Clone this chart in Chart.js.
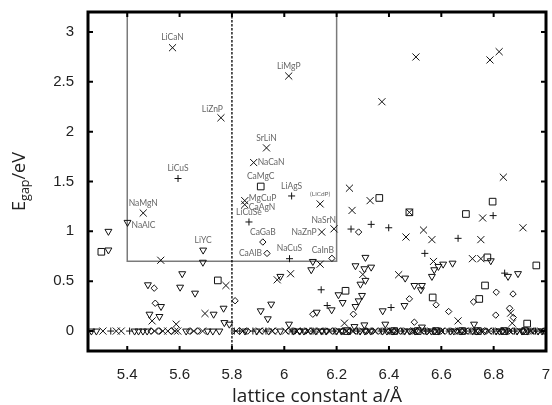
<!DOCTYPE html>
<html>
<head>
<meta charset="utf-8">
<script src="https://cdn.jsdelivr.net/npm/chart.js"></script>
<style>
  body { margin: 0; background: #fff; }
  canvas { display: block; }
</style>
</head>
<body>
<canvas id="gapChart" width="552" height="405"></canvas>
<script>
// axis ticks
const xTicks = [5.4, 5.6, 5.8, 6.0, 6.2, 6.4, 6.6, 6.8, 7.0];
const yTicks = [0, 0.5, 1, 1.5, 2, 2.5, 3];

// points with a gap (x = lattice constant, y = gap), one pair of arrays per marker
const crossX = [5.573, 6.017, 5.758, 5.932, 5.883, 5.849, 5.849, 6.137, 6.190, 6.143, 5.461,
  6.503, 6.786, 6.821, 6.373, 6.837, 6.249, 6.328, 6.259, 6.478, 6.758, 6.912, 6.465, 6.532,
  6.564, 6.751, 6.719, 6.751, 5.528, 5.777, 5.697, 5.495, 5.587, 6.137, 6.300, 6.024, 5.973,
  6.230, 6.437, 6.570, 6.664, 6.865, 6.871];
const crossY = [2.842, 2.558, 2.139, 1.837, 1.690, 1.308, 1.268, 1.275, 1.025, 0.993, 1.184,
  2.749, 2.719, 2.802, 2.300, 1.543, 1.433, 1.308, 1.210, 1.191, 1.134, 1.036, 0.943, 1.013,
  0.917, 0.917, 0.726, 0.726, 0.710, 0.457, 0.176, 0.102, 0.069, 0.671, 0.568, 0.575, 0.514,
  0.079, 0.565, 0.698, 0.102, 0.180, 0.079];

const plusX = [5.594, 6.028, 5.865, 6.020, 6.255, 6.332, 6.399, 6.664, 6.798, 6.537, 6.141, 6.164, 6.408, 6.842];
const plusY = [1.530, 1.355, 1.094, 0.726, 1.023, 1.070, 1.036, 0.930, 1.158, 0.779, 0.414, 0.256, 0.236, 0.581];

const squareX = [5.910, 5.301, 5.746, 6.363, 6.478, 6.694, 6.796, 6.776, 6.963, 6.234, 6.567, 6.767, 6.745, 6.928];
const squareY = [1.450, 0.795, 0.508, 1.335, 1.191, 1.174, 1.298, 0.739, 0.658, 0.404, 0.337, 0.457, 0.322, 0.075];

const diamondX = [5.918, 5.934, 6.182, 5.503, 5.507, 5.812, 6.284, 6.264, 6.109, 6.478, 6.580,
  6.628, 6.497, 6.723, 6.810, 6.874, 6.808, 6.861, 6.875];
const diamondY = [0.893, 0.779, 0.729, 0.430, 0.279, 0.304, 0.993, 0.169, 0.169, 0.323, 0.263,
  0.196, 0.089, 0.293, 0.390, 0.372, 0.160, 0.229, 0.136];

const triangleX = [5.401, 5.690, 5.328, 5.328, 5.689, 5.610, 5.479, 5.602, 5.659, 5.529, 5.768,
  5.485, 5.523, 5.730, 5.771, 5.790, 6.109, 6.103, 6.310, 6.272, 6.306, 6.332, 6.310, 6.291,
  6.297, 6.207, 6.223, 6.284, 6.272, 5.985, 5.950, 5.910, 5.937, 6.181, 6.124, 6.376, 6.018,
  6.462, 6.497, 6.526, 6.522, 6.564, 6.573, 6.589, 6.607, 6.643, 6.459, 6.725, 6.789, 6.855,
  6.893, 6.526, 6.268, 6.306, 6.386];
const triangleY = [1.090, 0.812, 1.000, 0.813, 0.690, 0.575, 0.464, 0.440, 0.380, 0.246, 0.229,
  0.169, 0.146, 0.169, 0.085, 0.069, 0.698, 0.615, 0.739, 0.655, 0.625, 0.641, 0.508, 0.470,
  0.357, 0.364, 0.286, 0.303, 0.246, 0.548, 0.270, 0.203, 0.123, 0.213, 0.189, 0.203, 0.069,
  0.531, 0.457, 0.457, 0.414, 0.548, 0.615, 0.648, 0.671, 0.681, 0.256, 0.069, 0.705, 0.548,
  0.576, 0.040, 0.045, 0.062, 0.069];

// metals (gap = 0), lattice constants only
const zeroCrossX = [5.307, 5.358, 5.377, 5.504, 5.536, 5.555, 5.583, 5.593, 5.654, 5.688, 5.815,
  5.842, 5.905, 5.955, 6.005, 6.048, 6.090, 6.135, 6.170, 6.210, 6.260, 6.300, 6.345, 6.390,
  6.430, 6.470, 6.520, 6.560, 6.600, 6.650, 6.690, 6.730, 6.780, 6.820, 6.860, 6.900, 6.940, 6.980,
  6.112, 6.238, 6.322, 6.408, 6.496, 6.582, 6.668, 6.752, 6.842, 6.925];
const zeroPlusX = [5.337, 5.409, 5.809, 5.830, 5.880, 5.930, 6.030, 6.110, 6.190, 6.280, 6.370,
  6.450, 6.540, 6.630, 6.710, 6.800, 6.880, 6.960];
const zeroSquareX = [6.240, 6.420, 6.510, 6.580, 6.680, 6.740, 6.840, 6.920];
const zeroDiamondX = [5.491, 5.520, 5.568, 5.638, 5.669, 5.860, 5.915, 5.965, 6.015, 6.060, 6.100,
  6.145, 6.185, 6.225, 6.275, 6.315, 6.360, 6.400, 6.445, 6.490, 6.535, 6.575, 6.615, 6.660,
  6.700, 6.745, 6.790, 6.835, 6.875, 6.915, 6.955, 6.990,
  6.040, 6.082, 6.163, 6.252, 6.338, 6.425, 6.512, 6.598, 6.685, 6.772, 6.858, 6.945];
const zeroTriangleX = [5.263, 5.282, 5.428, 5.443, 5.460, 5.476, 5.625, 5.707, 5.727, 5.752,
  5.850, 5.895, 5.940, 5.985, 6.035, 6.075, 6.120, 6.160, 6.200, 6.245, 6.290, 6.330, 6.375,
  6.415, 6.460, 6.500, 6.545, 6.590, 6.635, 6.675, 6.720, 6.765, 6.810, 6.850, 6.890, 6.930, 6.970,
  6.058, 6.142, 6.218, 6.308, 6.392, 6.478, 6.562, 6.648, 6.735, 6.822, 6.908, 6.985];

// named compounds: name, point it belongs to, where the text goes
const labelNames = ['LiCaN', 'LiMgP', 'LiZnP', 'SrLiN', 'NaCaN', 'LiCuS', 'CaMgC', 'LiAgS', '(LiCdP)',
  'MgCuP', 'CaAgN', 'LiCuSe', 'NaSrN', 'NaZnP', 'CaGaB', 'CaAlB', 'NaCuS', 'CaInB', 'NaMgN', 'NaAlC', 'LiYC'];
const labelX = [5.573, 6.017, 5.758, 5.932, 5.883, 5.594, 5.910, 6.028, 6.137,
  5.849, 5.849, 5.865, 6.190, 6.143, 5.918, 5.934, 6.020, 6.182, 5.461, 5.401, 5.690];
const labelY = [2.842, 2.558, 2.139, 1.837, 1.690, 1.530, 1.450, 1.355, 1.275,
  1.308, 1.268, 1.094, 1.025, 0.993, 0.893, 0.779, 0.726, 0.729, 1.184, 1.090, 0.812];
const labelSide = ['above', 'above', 'aboveLeft', 'above', 'right', 'above', 'above', 'above', 'above',
  'rightUp', 'rightDown', 'above', 'aboveLeft', 'left', 'above', 'left', 'above', 'aboveLeft', 'above', 'rightDown', 'above'];

// candidate window and reference lattice constant
const boxX = [5.4, 6.2];
const boxY = [0.7, 3.2];
const refLattice = 5.8;

function toPoints(xs, ys) {
  return xs.map((x, i) => ({ x: x, y: ys[i] }));
}
function zeroPoints(xs) {
  return xs.map(x => ({ x: x, y: 0 }));
}

function markerSet(data, style, radius, rotation) {
  return {
    data: data,
    pointStyle: style,
    pointRadius: radius,
    pointRotation: rotation || 0,
    rotation: rotation || 0,
    pointBorderColor: '#111',
    pointBackgroundColor: 'rgba(0,0,0,0)',
    pointBorderWidth: 1,
    showLine: false
  };
}

// window, dashed line, frame, ticks, names and y title
const decorPlugin = {
  id: 'decor',
  beforeDatasetsDraw(chart) {
    const ctx = chart.ctx;
    const xs = chart.scales.x, ys = chart.scales.y;
    const a = chart.chartArea;
    ctx.save();
    ctx.strokeStyle = '#7a7a7a';
    ctx.lineWidth = 1.5;
    ctx.strokeRect(xs.getPixelForValue(boxX[0]), ys.getPixelForValue(boxY[1]),
      xs.getPixelForValue(boxX[1]) - xs.getPixelForValue(boxX[0]),
      ys.getPixelForValue(boxY[0]) - ys.getPixelForValue(boxY[1]));
    ctx.strokeStyle = '#000';
    ctx.lineWidth = 1.3;
    ctx.setLineDash([2.5, 1.5]);
    const xr = xs.getPixelForValue(refLattice);
    ctx.beginPath();
    ctx.moveTo(xr, a.top);
    ctx.lineTo(xr, a.bottom);
    ctx.stroke();
    ctx.restore();
  },
  afterDatasetsDraw(chart) {
    const ctx = chart.ctx;
    const xs = chart.scales.x, ys = chart.scales.y;
    ctx.save();
    ctx.fillStyle = '#666';
    ctx.textBaseline = 'middle';
    labelNames.forEach((name, i) => {
      const px = xs.getPixelForValue(labelX[i]);
      const py = ys.getPixelForValue(labelY[i]);
      ctx.font = name.startsWith('(') ? '6.5px Lato' : '8.5px Lato';
      const side = labelSide[i];
      if (side === 'above') {
        ctx.textAlign = 'center';
        ctx.fillText(name, px, py - 10);
      } else if (side === 'aboveLeft') {
        ctx.textAlign = 'right';
        ctx.fillText(name, px + 2, py - 8.5);
      } else if (side === 'right') {
        ctx.textAlign = 'left';
        ctx.fillText(name, px + 4, py);
      } else if (side === 'rightUp') {
        ctx.textAlign = 'left';
        ctx.fillText(name, px + 4, py - 2);
      } else if (side === 'rightDown') {
        ctx.textAlign = 'left';
        ctx.fillText(name, px + 4, py + 2.5);
      } else {
        ctx.textAlign = 'right';
        ctx.fillText(name, px - 5, py);
      }
    });
    ctx.restore();
  },
  afterDraw(chart) {
    const ctx = chart.ctx;
    const xs = chart.scales.x, ys = chart.scales.y;
    const a = chart.chartArea;
    ctx.save();
    ctx.strokeStyle = '#000';
    ctx.lineWidth = 2;
    ctx.beginPath();
    xTicks.forEach(v => {
      const p = xs.getPixelForValue(v);
      ctx.moveTo(p, a.bottom); ctx.lineTo(p, a.bottom - 5);
      ctx.moveTo(p, a.top); ctx.lineTo(p, a.top + 5);
    });
    yTicks.forEach(v => {
      const p = ys.getPixelForValue(v);
      ctx.moveTo(a.left, p); ctx.lineTo(a.left + 5, p);
      ctx.moveTo(a.right, p); ctx.lineTo(a.right - 5, p);
    });
    ctx.stroke();
    ctx.lineWidth = 3;
    ctx.strokeRect(a.left, a.top, a.right - a.left, a.bottom - a.top);

    // y title with subscript
    ctx.translate(19, (a.top + a.bottom) / 2);
    ctx.rotate(-Math.PI / 2);
    ctx.fillStyle = '#222';
    ctx.textBaseline = 'alphabetic';
    ctx.textAlign = 'left';
    const big = '18px "Open Sans"', small = '12.5px "Open Sans"';
    ctx.font = big; const wE = ctx.measureText('E').width; const wU = ctx.measureText('/eV').width;
    ctx.font = small; const wG = ctx.measureText('gap').width;
    let x0 = -(wE + wG + wU) / 2;
    ctx.font = big; ctx.fillText('E', x0, 6);
    ctx.font = small; ctx.fillText('gap', x0 + wE, 10);
    ctx.font = big; ctx.fillText('/eV', x0 + wE + wG, 6);
    ctx.restore();
  }
};

const ctx = document.getElementById('gapChart').getContext('2d');
const gapChart = new Chart(ctx, {
  type: 'scatter',
  data: {
    datasets: [
      markerSet(zeroPoints(zeroTriangleX).concat(toPoints(triangleX, triangleY)), 'triangle', 4, 180),
      markerSet(zeroPoints(zeroDiamondX).concat(toPoints(diamondX, diamondY)), 'rectRot', 3.2),
      markerSet(zeroPoints(zeroSquareX).concat(toPoints(squareX, squareY)), 'rect', 4.7),
      markerSet(zeroPoints(zeroPlusX).concat(toPoints(plusX, plusY)), 'cross', 3.5),
      markerSet(zeroPoints(zeroCrossX).concat(toPoints(crossX, crossY)), 'crossRot', 5)
    ]
  },
  options: {
    responsive: false,
    animation: false,
    layout: { padding: { top: 12, right: 5, left: 0, bottom: 0 } },
    plugins: { legend: { display: false }, tooltip: { enabled: false } },
    scales: {
      x: {
        type: 'linear',
        min: 5.25,
        max: 7.0,
        grid: { display: false, drawTicks: false },
        border: { display: false },
        afterBuildTicks: scale => { scale.ticks = xTicks.map(v => ({ value: v })); },
        afterFit: scale => { scale.height = 54; scale.paddingLeft = 0; scale.paddingRight = 0; },
        ticks: {
          color: '#222',
          padding: 15,
          maxRotation: 0,
          font: { family: '"Liberation Sans"', size: 15 },
          callback: v => String(Number(v.toFixed(1)))
        },
        title: {
          display: true,
          text: 'lattice constant a/Å',
          color: '#222',
          padding: { top: 0, bottom: -1 },
          font: { family: '"Open Sans"', size: 19, lineHeight: 1 }
        }
      },
      y: {
        type: 'linear',
        min: -0.2,
        max: 3.2,
        grid: { display: false, drawTicks: false },
        border: { display: false },
        afterBuildTicks: scale => { scale.ticks = yTicks.map(v => ({ value: v })); },
        afterFit: scale => { scale.width = 88; scale.paddingTop = 0; scale.paddingBottom = 0; },
        ticks: {
          color: '#222',
          padding: 14,
          font: { family: '"Liberation Sans"', size: 15 },
          callback: v => String(v)
        }
      }
    }
  },
  plugins: [decorPlugin]
});
</script>
</body>
</html>
